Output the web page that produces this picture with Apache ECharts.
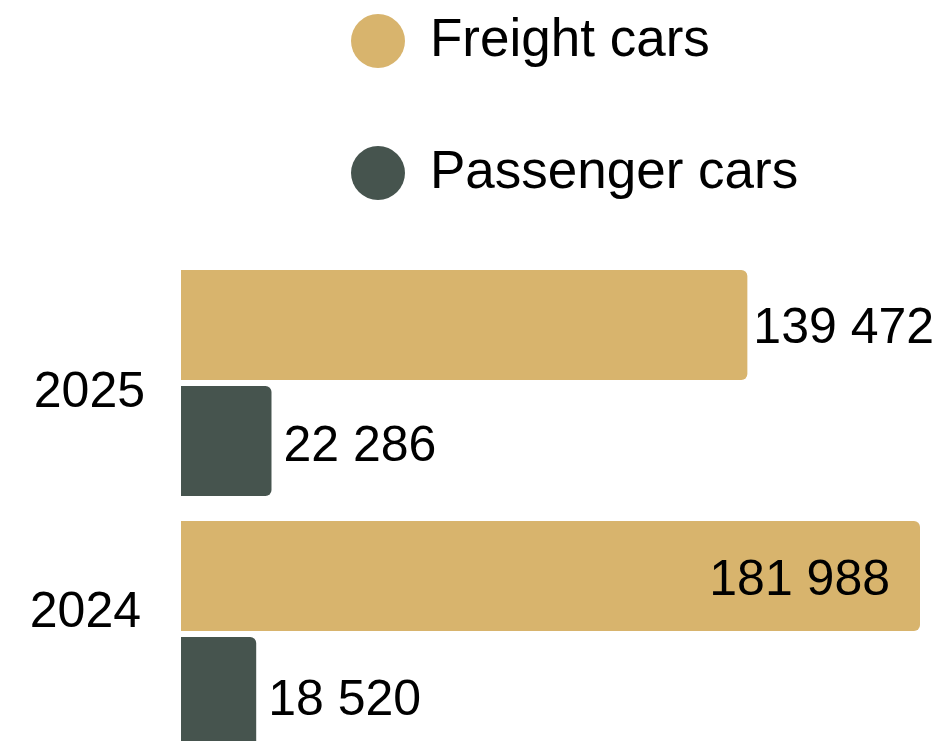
<!DOCTYPE html>
<html>
<head>
<meta charset="utf-8">
<script src="https://cdn.jsdelivr.net/npm/echarts@6/dist/echarts.min.js"></script>
<style>
  html, body { margin: 0; padding: 0; background: #fff; }
  #main { width: 942px; height: 741px; }
</style>
</head>
<body>
<div id="main"></div>
<script>
// data
const years = ['2025', '2024'];
const freightCars = [139472, 181988];
const passengerCars = [22286, 18520];
const seriesNames = ['Freight cars', 'Passenger cars'];

const FONT = '"Liberation Sans", Arial, sans-serif';

// 181988 -> "181 988"
const fmt = (v) => String(v).replace(/\B(?=(\d{3})+(?!\d))/g, ' ');

const chart = echarts.init(document.getElementById('main'));

const option = {
    color: ['#D8B46D', '#46544E'],
    textStyle: { fontFamily: FONT },
    legend: {
        orient: 'vertical',
        left: 346,
        top: 9,
        icon: 'circle',
        itemWidth: 94,
        itemHeight: 54,
        itemGap: 78,
        selectedMode: false,
        data: seriesNames,
        textStyle: { fontSize: 53, color: '#000', fontFamily: FONT }
    },
    // categories sit on the grid edges, bars overflow the grid (bottom one runs off the page)
    grid: {
        left: 181,
        right: 22,
        top: 383,
        height: 251,
        containLabel: false
    },
    xAxis: {
        type: 'value',
        min: 0,
        max: 'dataMax',
        show: false
    },
    yAxis: {
        type: 'category',
        inverse: true,
        boundaryGap: false,
        data: years,
        axisLine: { show: false },
        axisTick: { show: false },
        splitLine: { show: false },
        axisLabel: {
            margin: 36,
            color: '#000',
            fontFamily: FONT,
            fontSize: 50,
            formatter: (v, i) => '{y' + i + '|' + v + '}',
            rich: {
                y0: { fontSize: 50, fontFamily: FONT, color: '#000', padding: [20, 0, 0, 0] },
                y1: { fontSize: 50, fontFamily: FONT, color: '#000', padding: [0, 4, 42, 0] }
            }
        }
    },
    series: [
        {
            name: seriesNames[0],
            type: 'bar',
            clip: false,
            barWidth: 110,
            barGap: '5.5%',
            itemStyle: { borderRadius: [0, 6, 6, 0] },
            label: {
                show: true,
                position: 'right',
                distance: 6,
                offset: [0, 4],
                fontSize: 50,
                color: '#000',
                fontFamily: FONT,
                formatter: (p) => fmt(p.value)
            },
            data: freightCars.map((v, i) => i === 1
                ? { value: v, label: { position: 'insideRight', distance: 30, offset: [0, 5] } }
                : v)
        },
        {
            name: seriesNames[1],
            type: 'bar',
            clip: false,
            barWidth: 110,
            barGap: '5.5%',
            itemStyle: { borderRadius: [0, 6, 6, 0] },
            label: {
                show: true,
                position: 'right',
                distance: 12,
                offset: [0, 6],
                fontSize: 50,
                color: '#000',
                fontFamily: FONT,
                formatter: (p) => fmt(p.value)
            },
            data: passengerCars.map((v, i) => i === 1
                ? { value: v, label: { offset: [0, 9] } }
                : v)
        }
    ],
    animation: false
};

chart.setOption(option);
</script>
</body>
</html>
